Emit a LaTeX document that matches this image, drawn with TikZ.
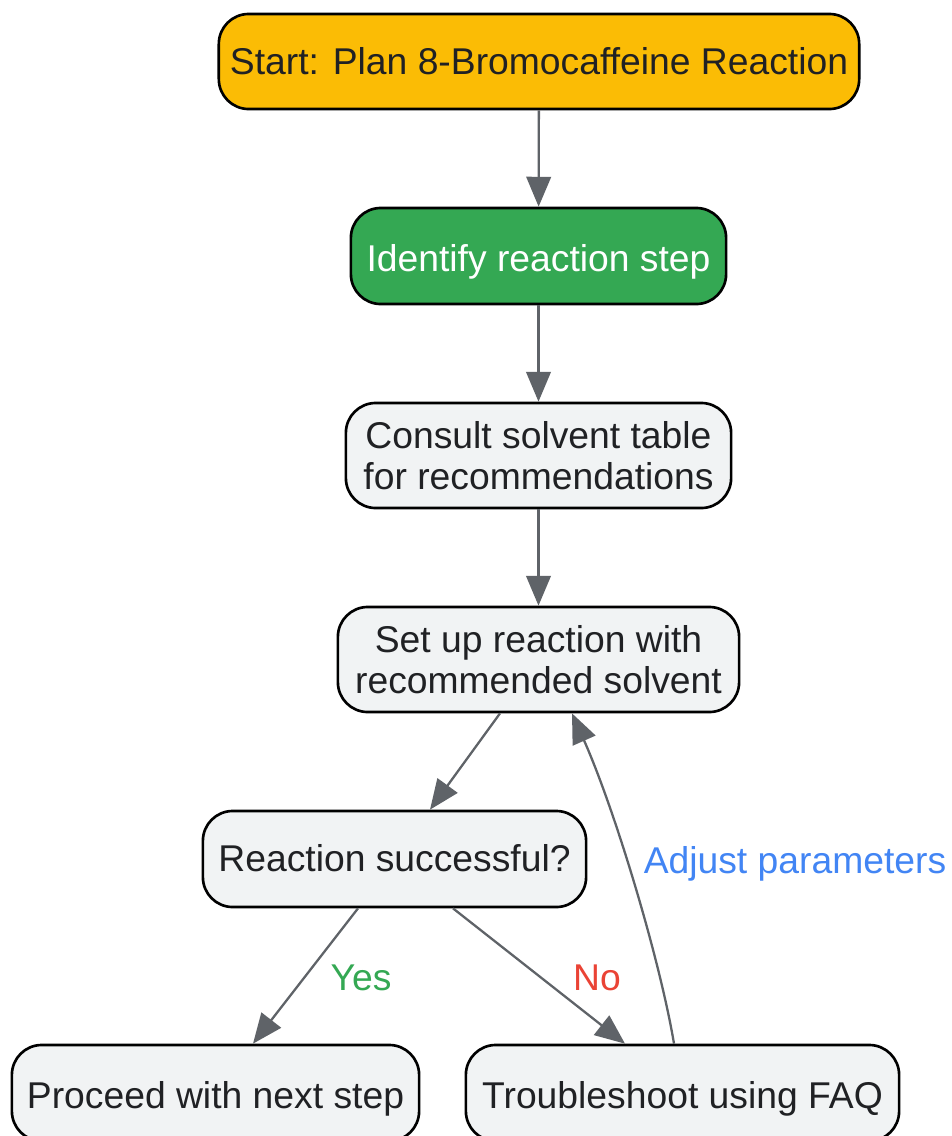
\documentclass[tikz,border=0pt]{standalone}
\usepackage{fontspec}
\setmainfont{Liberation Sans}
\usetikzlibrary{arrows.meta,calc}
\definecolor{cyellow}{HTML}{FBBC05}
\definecolor{cgreen}{HTML}{34A853}
\definecolor{cgrayfill}{HTML}{F1F3F4}
\definecolor{ctext}{HTML}{202124}
\definecolor{carrow}{HTML}{5F6368}
\definecolor{cred}{HTML}{EA4335}
\definecolor{cblue}{HTML}{4285F4}
\tikzset{
  box/.style={draw=black, line width=0.75pt, rounded corners=8.5pt, align=center,
    font=\fontsize{10.6}{11.8}\selectfont, text=ctext, inner sep=0pt, fill=cgrayfill},
  oneline/.style={text height=0.73em, text depth=0pt},
  lowline/.style={text height=0.89em, text depth=0pt},
  conn/.style={draw=carrow, line width=0.65pt, -{Triangle[length=8.5pt,width=7pt]}},
  lbl/.style={font=\fontsize{10.6}{11.8}\selectfont, inner sep=0pt, text height=0.73em, text depth=0pt}
}
\begin{document}
\begin{tikzpicture}[x=0.01cm,y=-0.01cm]
\useasboundingbox (0,0) rectangle (951,1136);
\node[box, oneline, fill=cyellow, minimum width=6.4cm, minimum height=0.95cm] (start) at (539,61.5) {Start: Plan 8-Bromocaffeine Reaction};
\node[box, lowline, fill=cgreen, text=white, minimum width=3.75cm, minimum height=0.96cm] (ident) at (538.5,256) {Identify reaction step};
\node[box, minimum width=3.85cm, minimum height=1.05cm] (consult) at (538.5,455.5) {Consult solvent table\\for recommendations};
\node[box, minimum width=4.01cm, minimum height=1.05cm] (setup) at (538.5,659.5) {Set up reaction with\\recommended solvent};
\node[box, oneline, minimum width=3.83cm, minimum height=0.96cm] (react) at (394.5,859) {Reaction successful?};
\node[box, lowline, minimum width=4.07cm, minimum height=0.96cm] (proceed) at (215.5,1093) {Proceed with next step};
\node[box, lowline, minimum width=4.33cm, minimum height=0.96cm] (trouble) at (682.5,1093) {Troubleshoot using FAQ};

\draw[conn] (start) -- (ident);
\draw[conn] (ident) -- (consult);
\draw[conn] (consult) -- (setup);
\draw[conn] ($(setup.south)+(-38.5,0)$) -- ($(react.north)+(35.5,0)$);
\draw[conn] ($(react.south)+(-36.5,0)$) -- ($(proceed.north)+(37.5,0)$);
\draw[conn] ($(react.south)+(58.5,0)$) -- ($(trouble.north)+(-57.5,0)$);
\draw[conn] ($(trouble.north)+(-8.5,0)$) .. controls (660,960) and (615,810) .. ($(setup.south)+(33.5,0)$);

\node[lbl, text=cgreen] (yes) at (361,978) {Yes};
\node[lbl, text=cred] (no) at (597,978) {No};
\node[lbl, text=cblue] (adj) at (795,861) {Adjust parameters};
\end{tikzpicture}
\end{document}
